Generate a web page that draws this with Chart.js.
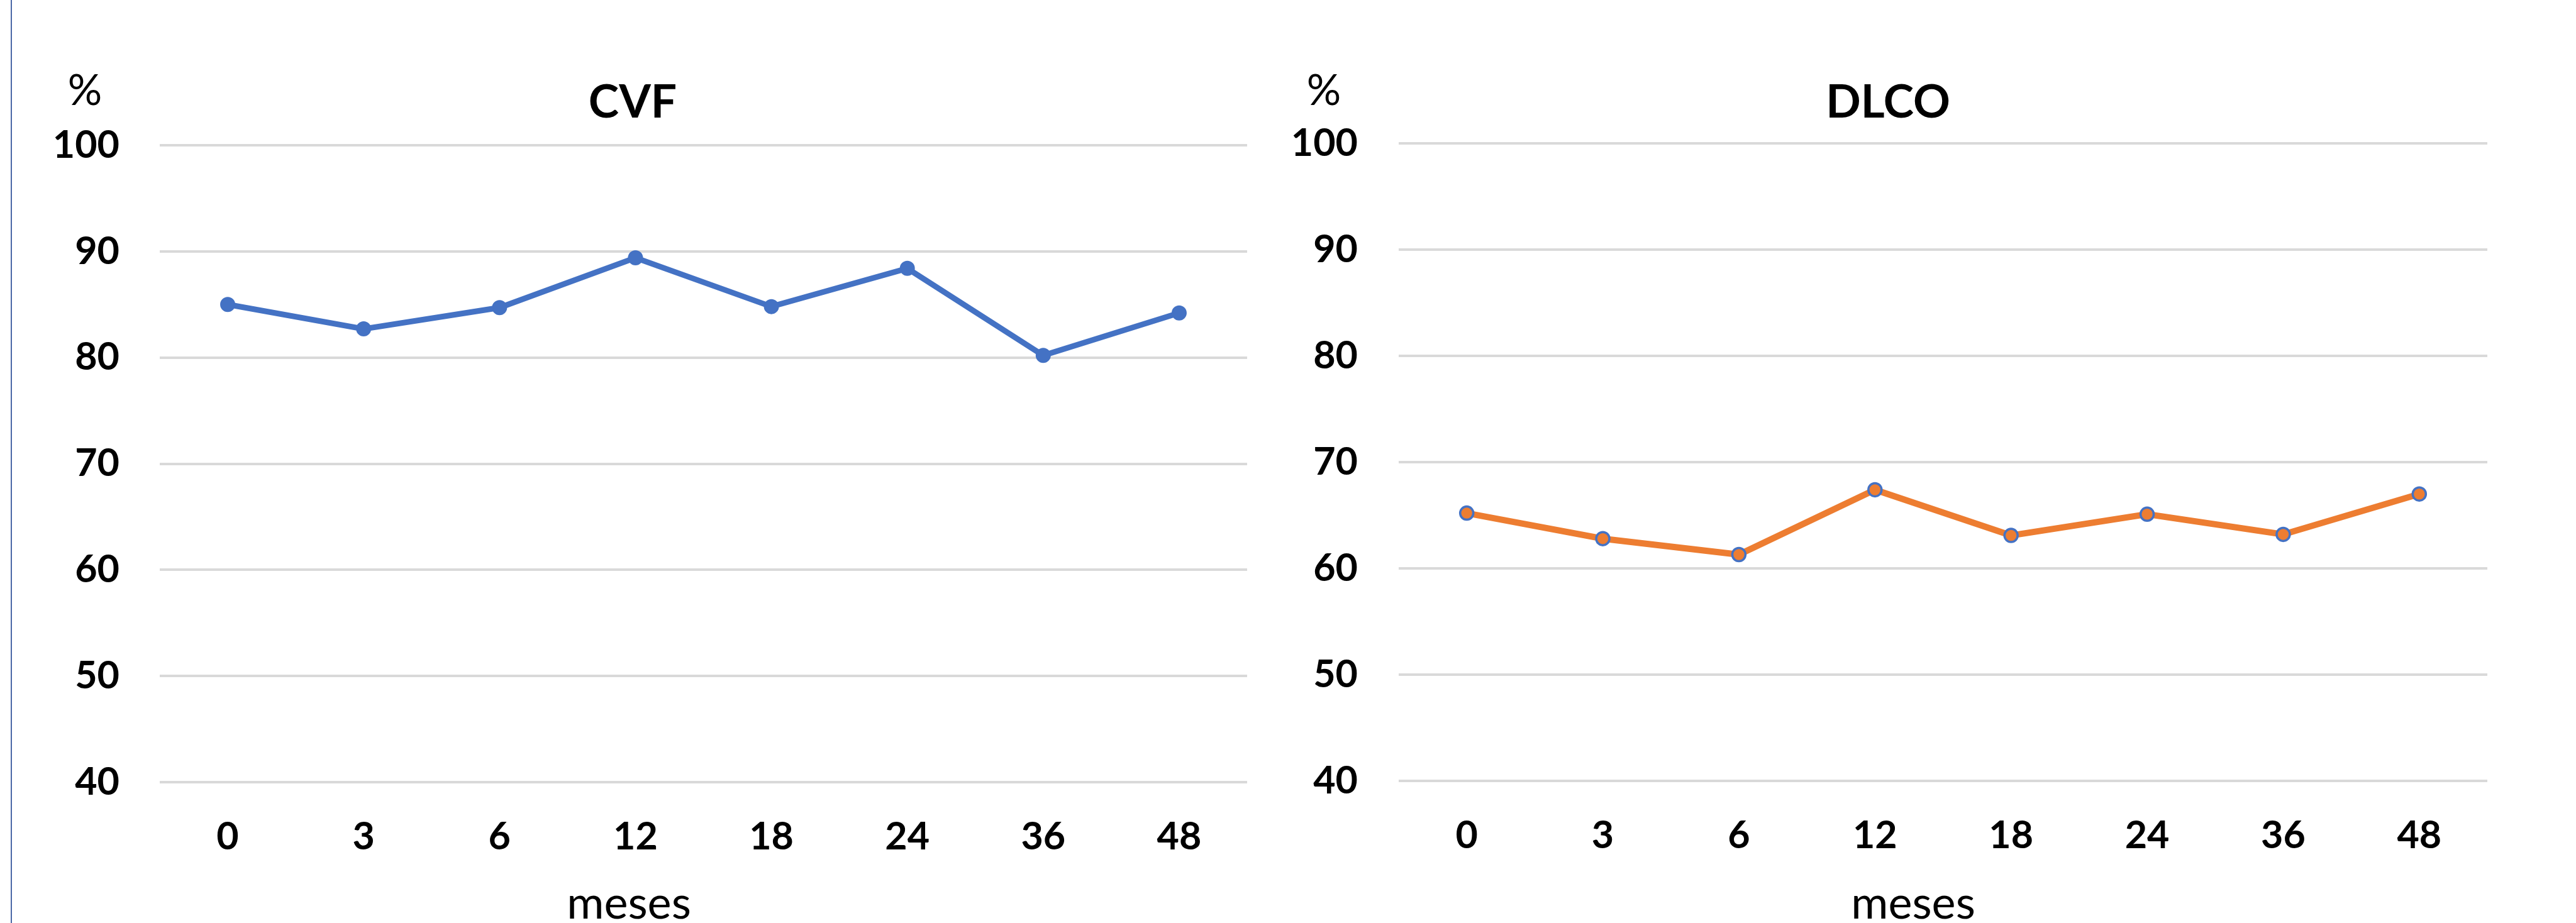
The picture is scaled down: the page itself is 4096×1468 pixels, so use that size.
<!DOCTYPE html>
<html>
<head>
<meta charset="utf-8">
<script src="https://cdn.jsdelivr.net/npm/chart.js@4.4.1/dist/chart.umd.min.js"></script>
<style>
  html, body { margin: 0; padding: 0; background: #ffffff; }
  #page { position: relative; width: 4096px; height: 1468px; overflow: hidden; background: #ffffff; }
  #edge { position: absolute; left: 17px; top: 0; width: 2px; height: 1468px; background: #4a68a6; }
  .panel { position: absolute; top: 0; width: 2048px; height: 1468px; }
  #p1 { left: 0; }
  #p2 { left: 2048px; }
</style>
</head>
<body>
<div id="page">
  <div id="edge"></div>
  <div class="panel" id="p1"><canvas id="c1"></canvas></div>
  <div class="panel" id="p2"><canvas id="c2"></canvas></div>
</div>
<script>
// months since baseline
const meses = ['0', '3', '6', '12', '18', '24', '36', '48'];
// forced vital capacity, % predicted
const cvf = [85.0, 82.7, 84.7, 89.4, 84.8, 88.4, 80.2, 84.2];
// diffusing capacity for carbon monoxide, % predicted
const dlco = [65.2, 62.8, 61.3, 67.4, 63.1, 65.1, 63.2, 67.0];
// value axis range and step
const yMin = 40, yMax = 100, yStep = 10;

const FONT = 'Lato, "Liberation Sans", sans-serif';
const BLUE = '#4472C4';
const ORANGE = '#ED7D31';

// Title, unit and axis caption drawn on the canvas
const captions = {
  id: 'captions',
  afterDraw(chart, args, opts) {
    const ctx = chart.ctx;
    ctx.save();
    ctx.fillStyle = '#000000';
    ctx.textBaseline = 'alphabetic';
    ctx.textAlign = 'center';
    ctx.font = 'bold 73px ' + FONT;
    ctx.fillText(opts.title, opts.titleX, 187);
    ctx.font = '68px ' + FONT;
    ctx.fillText('%', opts.unitX, 167);
    ctx.font = '72px ' + FONT;
    ctx.fillText('meses', opts.xTitleX, 1461);
    ctx.restore();
  }
};

function makeChart(id, values, color, borderColor, lineW, radius, pBorder, pad, yWidth, tickPad, cap) {
  return new Chart(document.getElementById(id), {
    type: 'line',
    data: {
      labels: meses,
      datasets: [{
        data: values,
        borderColor: color,
        backgroundColor: color,
        borderWidth: lineW,
        pointRadius: radius,
        pointBorderWidth: pBorder,
        pointBackgroundColor: color,
        pointBorderColor: borderColor,
        tension: 0,
        clip: false
      }]
    },
    options: {
      responsive: false,
      animation: false,
      devicePixelRatio: 1,
      layout: { padding: pad },
      plugins: {
        legend: { display: false },
        tooltip: { enabled: false },
        title: { display: false },
        captions: cap
      },
      scales: {
        x: {
          offset: true,
          grid: { display: false, drawTicks: false },
          border: { display: false },
          ticks: {
            color: '#000000',
            padding: 51,
            font: { family: FONT, size: 61, weight: 'bold' }
          },
          afterFit(scale) { scale.height = 224; }
        },
        y: {
          min: yMin,
          max: yMax,
          grid: { color: '#d9d9d9', lineWidth: 4, drawTicks: false },
          border: { display: false },
          ticks: {
            stepSize: yStep,
            color: '#000000',
            padding: tickPad,
            font: { family: FONT, size: 61, weight: 'bold' }
          },
          afterFit(scale) { scale.width = yWidth; }
        }
      }
    },
    plugins: [captions]
  });
}

function build() {
  for (const id of ['c1', 'c2']) {
    const c = document.getElementById(id);
    c.width = 2048; c.height = 1468;
    c.style.width = '2048px'; c.style.height = '1468px';
  }
  makeChart('c1', cvf, BLUE, BLUE, 9, 11, 2,
    { left: 0, right: 65, top: 231, bottom: 0 }, 254, 64,
    { title: 'CVF', titleX: 1006, unitX: 135, xTitleX: 1000 });
  makeChart('c2', dlco, ORANGE, BLUE, 10, 10.5, 3.5,
    { left: 0, right: 141, top: 228, bottom: 2 }, 176, 65,
    { title: 'DLCO', titleX: 954, unitX: 57, xTitleX: 994 });
}

Promise.all([
  document.fonts.load('bold 61px Lato'),
  document.fonts.load('61px Lato')
]).then(build, build);
</script>
</body>
</html>
